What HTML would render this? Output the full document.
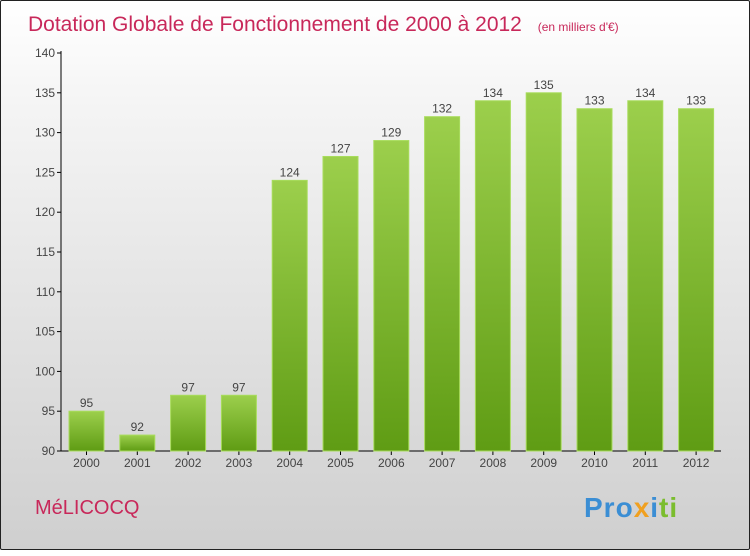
<!DOCTYPE html>
<html><head><meta charset="utf-8"><style>
body{margin:0;width:750px;height:550px;overflow:hidden}
#c{position:absolute;left:0;top:0;width:748px;height:548px;border:1px solid #222;border-radius:2px;background:linear-gradient(#ffffff,#f4f4f4 20%,#cfcfcf)}
text{font-family:"Liberation Sans",sans-serif}
</style></head><body>
<div id="c">
<svg width="750" height="550">
<defs><linearGradient id="g" x1="0" y1="0" x2="0" y2="1"><stop offset="0" stop-color="#9ccf4c"/><stop offset="1" stop-color="#5f9c14"/></linearGradient></defs>
<text x="27" y="30" font-size="21" fill="#c8285a">Dotation Globale de Fonctionnement de 2000 à 2012 <tspan font-size="12" dx="10">(en milliers d'€)</tspan></text>
<g id="axes"></g><g id="bars"></g>
<text x="34" y="513" font-size="20" fill="#c8285a">MéLICOCQ</text>
<text x="583" y="516" font-size="28" font-weight="bold" letter-spacing="1"><tspan fill="#3b8ed4">Pro</tspan><tspan fill="#f0a020">x</tspan><tspan fill="#3b8ed4">i</tspan><tspan fill="#7bbd2e">ti</tspan></text>
</svg></div>
<script>
const years=["2000","2001","2002","2003","2004","2005","2006","2007","2008","2009","2010","2011","2012"];
const values=[95,92,97,97,124,127,129,132,134,135,133,134,133];
const ticks=[90,95,100,105,110,115,120,125,130,135,140];
const NS="http://www.w3.org/2000/svg";
const y=v=>450-(v-90)*(398/50);
const x=i=>85.5+i*50.8;
function mk(t,a,p){const e=document.createElementNS(NS,t);for(const k in a)e.setAttribute(k,a[k]);p.appendChild(e);return e;}
const ax=document.getElementById('axes'),bg=document.getElementById('bars');
const yl=mk('line',{x1:60,y1:50,x2:60,y2:450,stroke:'#000'},ax);


const xl=mk('line',{x1:60,y1:450,x2:720,y2:450,stroke:'#000'},ax);


ticks.forEach(t=>{mk('line',{x1:56,y1:y(t),x2:60,y2:y(t),stroke:'#000'},ax);
const l=mk('text',{x:54,y:y(t)+4,'font-size':12,fill:'#444','text-anchor':'end'},ax);l.textContent=t;

});
values.forEach((v,i)=>{
const r=mk('rect',{x:x(i)-17.5,y:y(v),width:35,height:450-y(v),fill:'url(#g)',stroke:'#a8dc5c','stroke-width':1},bg);


const vl=mk('text',{x:x(i),y:y(v)-4,'font-size':12,fill:'#444','text-anchor':'middle'},bg);vl.textContent=v;


mk('line',{x1:x(i),y1:450,x2:x(i),y2:454,stroke:'#000'},ax);
const xlb=mk('text',{x:x(i),y:466,'font-size':12,fill:'#444','text-anchor':'middle'},ax);xlb.textContent=years[i];


});
</script>
</body></html>
